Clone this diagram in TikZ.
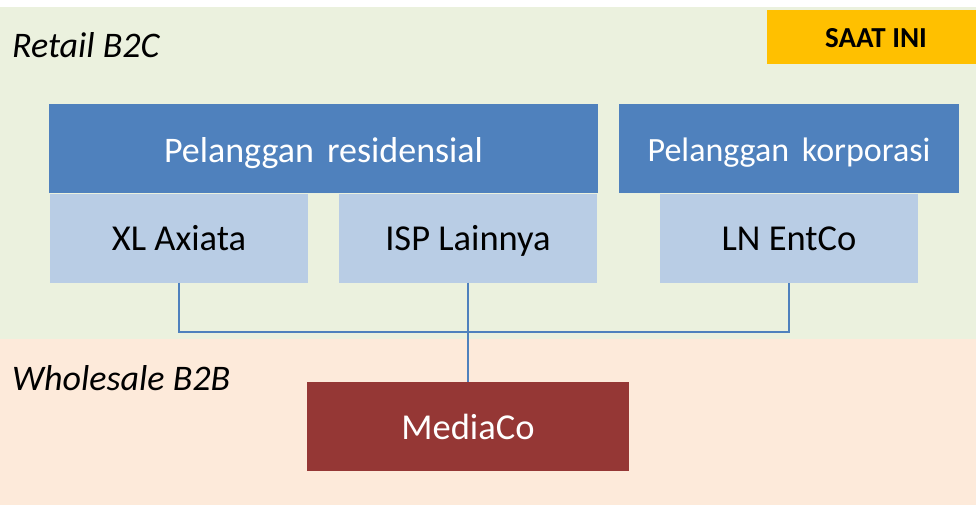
\documentclass[tikz,border=0pt]{standalone}
\usepackage{fontspec}
\setmainfont{Carlito}
\definecolor{bggreen}{HTML}{EBF1DE}
\definecolor{bgpeach}{HTML}{FDEADA}
\definecolor{darkblue}{HTML}{4F81BD}
\definecolor{lightblue}{HTML}{B9CDE5}
\definecolor{darkred}{HTML}{953735}
\definecolor{gold}{HTML}{FFC000}
\tikzset{
  box/.style={rectangle, inner sep=0pt, outer sep=0pt, text depth=0pt, align=center},
  headbox/.style={box, fill=darkblue, text=white, minimum height=88.7pt},
  subbox/.style={box, fill=lightblue, text=black, minimum height=88.7pt, minimum width=258pt, text height=24.7pt, font=\fontsize{36.5}{40}\selectfont},
  zonelabel/.style={anchor=base west, inner sep=0pt, font=\fontsize{36}{40}\selectfont\itshape},
  link/.style={draw=darkblue, line width=1.5pt}
}
\begin{document}
\begin{tikzpicture}[x=1pt,y=-1pt]
\useasboundingbox (0,0) rectangle (976,505);
\fill[white] (0,0) rectangle (976,505);
\fill[bggreen] (0,7) rectangle (976,339);
\fill[bgpeach] (0,339) rectangle (976,505);

\node[zonelabel] (retail) at (12,57.5) {Retail B2C};
\node[zonelabel] (wholesale) at (12,390) {Wholesale B2B};

\node[box, fill=gold, minimum width=209pt, minimum height=54.5pt, text height=20.1pt, font=\fontsize{29}{32}\selectfont\bfseries] (saat) at (871.5,37.25) {\hspace{9pt}SAAT INI};

\node[headbox, minimum width=549pt, text height=28.3pt, font=\fontsize{36}{40}\selectfont] (res) at (323.5,148.35) {Pelanggan\hspace{5pt} residensial};
\node[headbox, minimum width=340pt, text height=26.3pt, font=\fontsize{34}{38}\selectfont] (korp) at (789,148.35) {Pelanggan\hspace{5pt} korporasi};

\node[subbox] (xl) at (179,238.35) {XL Axiata};
\node[subbox] (isp) at (468,238.35) {ISP Lainnya};
\node[subbox] (ln) at (789,238.35) {LN EntCo};

\node[box, fill=darkred, text=white, minimum width=322pt, minimum height=88.7pt, text height=25.9pt, font=\fontsize{36.5}{40}\selectfont] (media) at (468,426.35) {MediaCo};

\coordinate (j) at (468,332);
\draw[link] (xl.south) -- (xl.south |- j) -- (ln.south |- j) -- (ln.south);
\draw[link] (isp.south) -- (media.north);
\end{tikzpicture}
\end{document}
